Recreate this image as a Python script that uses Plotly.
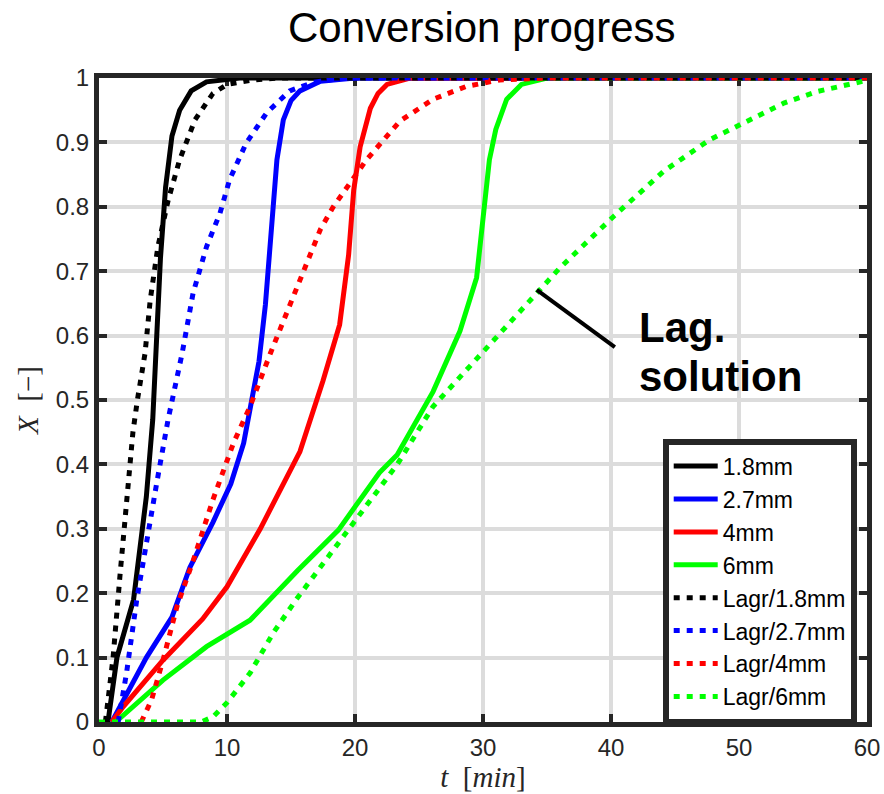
import plotly.graph_objects as go

# Conversion X(t) for each particle size, resolved model (solid) and Lagrangian model (dotted)
t_18 = [0.7, 1.4, 2.7, 3.7, 4.2, 4.45, 4.8, 5.2, 5.7, 6.3, 7.2, 8.4, 11, 60]
x_18 = [0, 0.10, 0.19, 0.35, 0.47, 0.57, 0.72, 0.83, 0.91, 0.95, 0.98, 0.994, 1, 1]

t_27 = [1.0, 2.3, 3.7, 5.7, 7.1, 8.9, 10.3, 11.3, 11.9, 12.5, 13.0, 13.4, 13.9, 14.4, 15.0, 15.7, 17.3, 20, 60]
x_27 = [0, 0.05, 0.10, 0.163, 0.24, 0.31, 0.37, 0.433, 0.50, 0.56, 0.648, 0.76, 0.873, 0.935, 0.965, 0.98, 0.995, 1, 1]

t_4 = [1.0, 1.9, 5.0, 8.1, 10.0, 12.6, 15.7, 17.5, 18.8, 19.5, 19.9, 20.4, 21.2, 21.8, 22.5, 24.3, 60]
x_4 = [0, 0.024, 0.096, 0.16, 0.21, 0.30, 0.42, 0.53, 0.617, 0.725, 0.826, 0.893, 0.953, 0.976, 0.99, 1, 1]

t_6 = [1.3, 5.0, 8.4, 11.8, 15.5, 18.7, 21.9, 23.3, 26.1, 28.2, 29.5, 30.0, 30.5, 31.0, 31.85, 33.0, 35, 60]
x_6 = [0, 0.065, 0.117, 0.158, 0.235, 0.298, 0.387, 0.415, 0.513, 0.607, 0.69, 0.78, 0.873, 0.92, 0.967, 0.99, 1, 1]

t_l18 = [0.5, 1.1, 1.65, 2.15, 2.65, 3.0, 3.6, 4.0, 4.6, 5.4, 6.3, 7.5, 8.9, 10, 12, 14, 60]
x_l18 = [0, 0.10, 0.23, 0.345, 0.45, 0.50, 0.573, 0.655, 0.738, 0.81, 0.873, 0.935, 0.976, 0.99, 0.997, 1, 1]

t_l27 = [1.5, 2.15, 2.95, 3.7, 4.5, 5.4, 6.5, 7.35, 8.4, 9.45, 10.2, 11.5, 13.1, 14.9, 16.7, 19, 60]
x_l27 = [0, 0.076, 0.19, 0.28, 0.37, 0.47, 0.573, 0.666, 0.738, 0.79, 0.842, 0.899, 0.946, 0.98, 0.993, 1, 1]

t_l4 = [3.3, 4.1, 5.0, 6.1, 7.35, 8.9, 10.5, 11.8, 13.4, 15.5, 17.3, 18.3, 20.0, 20.9, 23.5, 26.1, 28.7, 31.3, 35, 60]
x_l4 = [0, 0.034, 0.096, 0.18, 0.25, 0.345, 0.433, 0.49, 0.573, 0.675, 0.765, 0.80, 0.848, 0.873, 0.933, 0.967, 0.987, 0.997, 1, 1]

t_l6 = [0, 8.0, 8.9, 10.0, 11.8, 13.6, 15.4, 17.3, 19.35, 21.7, 23.3, 26.1, 29.8, 32.9, 36.0, 40.2, 44.1, 47.7, 50.9, 53.5, 56.1, 59.7]
x_l6 = [0, 0, 0.008, 0.03, 0.076, 0.138, 0.19, 0.24, 0.296, 0.355, 0.40, 0.49, 0.571, 0.637, 0.705, 0.785, 0.855, 0.904, 0.935, 0.961, 0.979, 0.995]

x_ticks = [0, 10, 20, 30, 40, 50, 60]
y_ticks = [0, 0.1, 0.2, 0.3, 0.4, 0.5, 0.6, 0.7, 0.8, 0.9, 1]
y_tick_text = ["0", "0.1", "0.2", "0.3", "0.4", "0.5", "0.6", "0.7", "0.8", "0.9", "1"]

series = [
    ("1.8mm", t_18, x_18, "#000000", "solid"),
    ("2.7mm", t_27, x_27, "#0000ff", "solid"),
    ("4mm", t_4, x_4, "#ff0000", "solid"),
    ("6mm", t_6, x_6, "#00ff00", "solid"),
    ("Lagr/1.8mm", t_l18, x_l18, "#000000", "6px,7px"),
    ("Lagr/2.7mm", t_l27, x_l27, "#0000ff", "6px,7px"),
    ("Lagr/4mm", t_l4, x_l4, "#ff0000", "6px,7px"),
    ("Lagr/6mm", t_l6, x_l6, "#00ff00", "6px,7px"),
]

fig = go.Figure()
for name, tt, xx, color, dash in series:
    fig.add_trace(go.Scatter(
        x=tt, y=xx, mode="lines", name=name,
        line=dict(color=color, width=5, dash=dash),
    ))

frame = "#262626"
sans = "Liberation Sans, Arial, sans-serif"
serif = "Liberation Serif, DejaVu Serif, serif"

axis_common = dict(
    showline=True, linecolor=frame, linewidth=5, mirror="ticks",
    ticks="inside", ticklen=8, tickwidth=4, tickcolor=frame,
    showgrid=True, gridcolor="#dcdcdc", gridwidth=4,
    zeroline=False, layer="below traces", automargin=False,
    tickfont=dict(family=sans, size=24, color=frame),
)

fig.update_layout(
    width=884, height=794,
    margin=dict(l=99, r=17, t=78, b=72),
    paper_bgcolor="white", plot_bgcolor="white",
    title=dict(text="Conversion progress", x=0.545, xanchor="center",
               y=0.965, yanchor="middle",
               font=dict(family=sans, size=42, color="black")),
    xaxis=dict(range=[0, 60], tickvals=x_ticks, **axis_common,
               title=dict(text="<i>t</i>  [<i>min</i>]", standoff=6,
                          font=dict(family=serif, size=29, color=frame))),
    yaxis=dict(range=[0, 1], tickvals=y_ticks, ticktext=y_tick_text, **axis_common,
               title=dict(text="<i>X</i>  [−]", standoff=10,
                          font=dict(family=serif, size=29, color=frame))),
    legend=dict(x=0.734, y=0.44, xanchor="left", yanchor="top",
                bgcolor="white", bordercolor=frame, borderwidth=6,
                font=dict(family=sans, size=23, color="black"),
                itemwidth=44, tracegroupgap=0),
    showlegend=True,
)

# Callout pointing at the Lagrangian curve
fig.add_shape(type="line", x0=34.2, y0=0.671, x1=40.3, y1=0.582,
              line=dict(color="black", width=4))
for txt, yv in [("Lag.", 0.612), ("solution", 0.536)]:
    fig.add_annotation(x=42.0, y=yv, xref="x", yref="y",
                       text="<b>" + txt + "</b>", showarrow=False,
                       xanchor="left", yanchor="middle", align="left",
                       font=dict(family=sans, size=42, color="black"))

fig.write_html("out.html")
